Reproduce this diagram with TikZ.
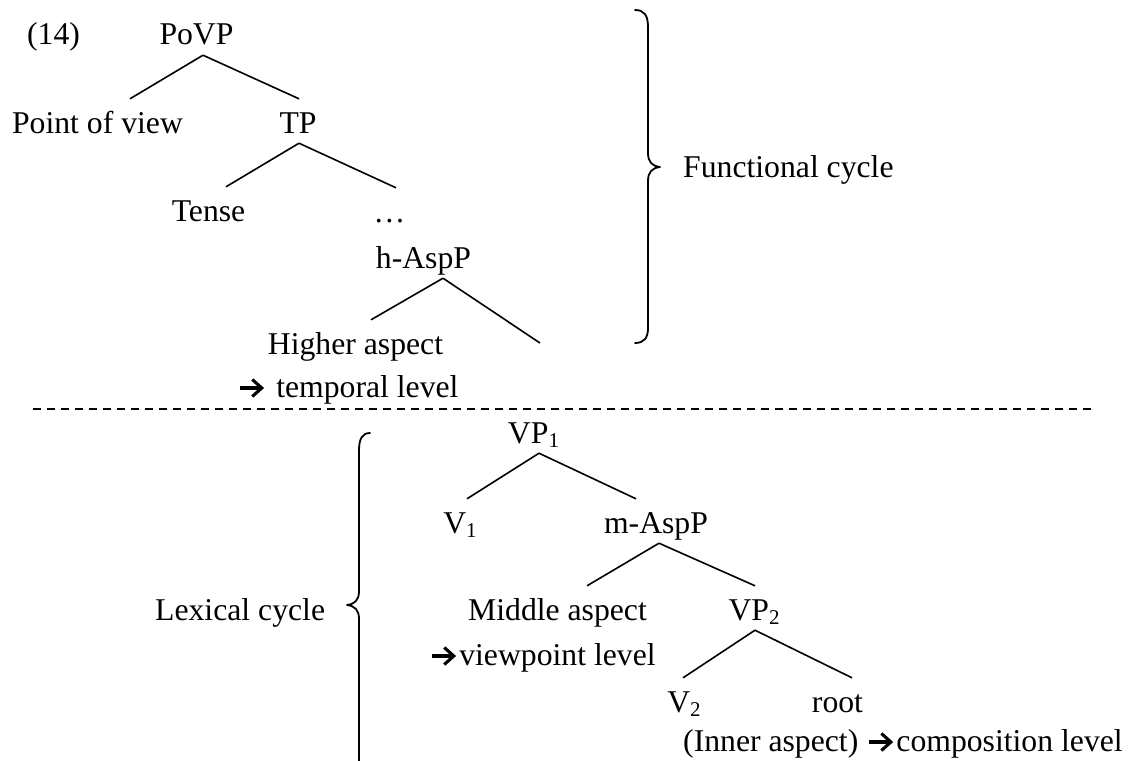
\documentclass[tikz,border=0pt]{standalone}
\usepackage{fontspec}
\setmainfont{Liberation Serif}
\usetikzlibrary{calc}
% lowered index digit (VP1, V2, ...)
\newcommand\subidx[1]{\raisebox{-4.5pt}{\fontsize{21}{21}\selectfont #1}}
% heavy open-headed right arrow used in the level labels
\newcommand\rarr{\tikz[baseline=0pt, x=1pt, y=1pt, line width=3.1pt]{%
  \draw (0,9) -- (21.5,9);
  \draw[line join=miter] (12.5,0.5) -- (22,9) -- (12.5,17.5);}}

\begin{document}
\begin{tikzpicture}[x=1pt,y=-1pt,
  every node/.style={font=\fontsize{31.7}{38}\selectfont, inner sep=0pt},
  lbl/.style={anchor=base},
  tnode/.style={anchor=base, text height=34pt, text depth=10pt},
  branch/.style={line width=1.6pt},
  cbrace/.style={line width=1.8pt, line cap=round, line join=round},
  sep/.style={line width=1.6pt, dash pattern=on 8pt off 6pt}]

\clip (0,0) rectangle (1131,760);
\fill[white] (0,0) rectangle (1131,760);

% ---------- functional cycle ----------
\node[lbl] (ex) at (53.5,45) {(14)};
\node[tnode] (povp) at (196.5,45) {PoVP};
\node[tnode] (pov) at (97.5,133) {Point of view};
\node[tnode] (tp) at (298,133) {TP};
\node[tnode] (tense) at (208.5,221) {Tense};
\node[tnode] (dots) at (389.5,222) {…};
\node[tnode] (hasp) at (423.5,268) {h-AspP};
\node[tnode] (higher) at (355.5,354) {Higher aspect};
\node[lbl, anchor=base west] (temporal) at (238,397) {\rarr\hspace{13pt}temporal level};
\coordinate (hfree) at (540,343);
\node[lbl, anchor=base west] (func) at (683,177) {Functional cycle};

\draw[branch] ([xshift=6.5pt]povp.south) -- ([xshift=32.5pt]pov.north);
\draw[branch] ([xshift=6.5pt]povp.south) -- ([xshift=1pt]tp.north);
\draw[branch] ([xshift=1pt]tp.south) -- ([xshift=17.5pt]tense.north);
\draw[branch] ([xshift=1pt]tp.south) -- ([xshift=6.5pt]dots.north);
\draw[branch] ([xshift=19.5pt]hasp.south) -- ([xshift=15.5pt]higher.north);
\draw[branch] ([xshift=19.5pt]hasp.south) -- (hfree);

\draw[cbrace] (635,10) .. controls (644,10) and (648,15) .. (648,27)
  -- (648,153) .. controls (648,162) and (652,166) .. (660,167)
  .. controls (652,168) and (648,172) .. (648,181)
  -- (648,328) .. controls (648,338) and (644,343) .. (635,343);

% ---------- separator ----------
\coordinate (sepL) at (33,409);
\coordinate (sepR) at (1092,409);
\draw[sep] (sepL) -- (sepR);

% ---------- lexical cycle ----------
\node[tnode] (vp1) at (533.5,443) {VP\subidx{1}};
\node[tnode] (v1) at (460,533) {V\subidx{1}};
\node[tnode] (masp) at (656,533) {m-AspP};
\node[tnode] (middle) at (557.5,620) {Middle aspect};
\node[lbl, anchor=base west] (viewpoint) at (430,665) {\rarr\hspace{4pt}viewpoint level};
\node[tnode] (vp2) at (754,620) {VP\subidx{2}};
\node[tnode] (v2) at (684,712) {V\subidx{2}};
\node[tnode] (root) at (837.5,712) {root};
\node[lbl, anchor=base west] (inner) at (683,751) {(Inner aspect)\hspace{9pt}\rarr\hspace{4pt}composition level};
\node[lbl, anchor=base west] (lex) at (155,620) {Lexical cycle};

\draw[branch] ([xshift=5.5pt]vp1.south) -- ([xshift=7pt]v1.north);
\draw[branch] ([xshift=5.5pt]vp1.south) -- ([xshift=-20pt]masp.north);
\draw[branch] ([xshift=3pt]masp.south) -- ([xshift=29.5pt]middle.north);
\draw[branch] ([xshift=3pt]masp.south) -- ([xshift=1pt]vp2.north);
\draw[branch] ([xshift=1pt]vp2.south) -- ([xshift=-1pt]v2.north);
\draw[branch] ([xshift=1pt]vp2.south) -- ([xshift=14.5pt]root.north);

\draw[cbrace] (370,433) .. controls (362,433) and (359,439) .. (359,451)
  -- (359,591) .. controls (359,600) and (355,604) .. (347,605)
  .. controls (355,606) and (359,610) .. (359,619)
  -- (359,763) .. controls (359,773) and (362,777) .. (370,777);
\end{tikzpicture}
\end{document}
